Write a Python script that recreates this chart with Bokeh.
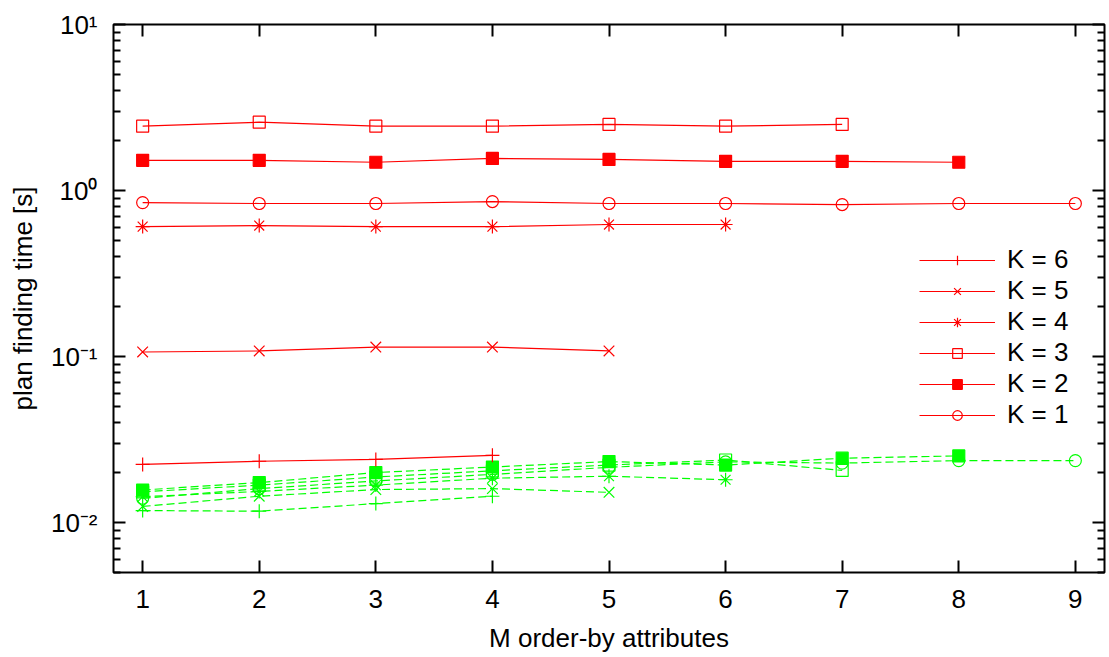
from bokeh.plotting import figure
from bokeh.models import FixedTicker, LinearAxis, LogAxis, Legend, LegendItem, Range1d
from bokeh.embed import file_html
from bokeh.resources import INLINE

# ---------------- data ----------------
m_values = [1, 2, 3, 4, 5, 6, 7, 8, 9]
x_ticks = [1, 2, 3, 4, 5, 6, 7, 8, 9]
y_ticks = [0.01, 0.1, 1, 10]
y_tick_labels = ["10\u207b\u00b2", "10\u207b\u00b9", "10\u2070", "10\u00b9"]
legend_labels = ["K = 6", "K = 5", "K = 4", "K = 3", "K = 2", "K = 1"]

# red (solid) series
red_k1 = [0.846, 0.835, 0.835, 0.858, 0.835, 0.835, 0.823, 0.835, 0.835]
red_k2 = [1.52, 1.52, 1.48, 1.56, 1.54, 1.50, 1.50, 1.48]
red_k3 = [2.44, 2.58, 2.44, 2.44, 2.50, 2.44, 2.50]
red_k4 = [0.606, 0.615, 0.606, 0.606, 0.624, 0.624]
red_k5 = [0.1065, 0.108, 0.114, 0.114, 0.108]
red_k6 = [0.0224, 0.0234, 0.0240, 0.0254]

# green (dashed) series
green_k1 = [0.0140, 0.0160, 0.0178, 0.0195, 0.0215, 0.0232, 0.0228, 0.0236, 0.0236]
green_k2 = [0.0157, 0.0174, 0.0200, 0.0216, 0.0233, 0.0222, 0.0244, 0.0252]
green_k3 = [0.0153, 0.0168, 0.0188, 0.0205, 0.0222, 0.0238, 0.0206]
green_k4 = [0.0143, 0.0154, 0.0168, 0.0185, 0.0190, 0.0181]
green_k5 = [0.0125, 0.0144, 0.0158, 0.0160, 0.0152]
green_k6 = [0.0118, 0.0117, 0.0130, 0.0144]

# ---------------- styles ----------------
FONT = "Liberation Sans"
FS = "26px"
RED = "#ff0000"
GREEN = "#00ff00"

markers = {
    1: dict(marker="circle", size=12, fill=False),
    2: dict(marker="square", size=12, fill=True),
    3: dict(marker="square", size=12, fill=False),
    4: dict(marker="asterisk", size=14, fill=False),
    5: dict(marker="x", size=15, fill=False),
    6: dict(marker="cross", size=14, fill=False),
}

p = figure(
    frame_width=991, frame_height=548,
    x_range=Range1d(0.75, 9.25), y_range=Range1d(0.005, 10),
    y_axis_type="log",
    output_backend="svg", toolbar_location=None,
    min_border_left=113, min_border_right=2, min_border_top=24, min_border_bottom=80,
    background_fill_color="white", border_fill_color="white",
)
p.grid.visible = False
p.outline_line_color = "black"
p.outline_line_width = 2

minor = []
for e in [-3, -2, -1, 0]:
    for k in range(2, 10):
        minor.append(k * 10.0 ** e)

def style_axis(ax):
    ax.axis_line_color = None
    ax.major_tick_in = 12
    ax.major_tick_out = 0
    ax.minor_tick_in = 7
    ax.minor_tick_out = 0
    ax.major_tick_line_width = 2
    ax.minor_tick_line_width = 2
    ax.major_tick_line_color = "black"
    ax.minor_tick_line_color = "black"
    ax.major_label_text_font = FONT
    ax.major_label_text_font_size = FS
    ax.major_label_text_color = "black"
    ax.axis_label_text_font = FONT
    ax.axis_label_text_font_size = FS
    ax.axis_label_text_font_style = "normal"
    ax.axis_label_text_color = "black"

xa = p.xaxis[0]
xa.ticker = FixedTicker(ticks=x_ticks)
xa.axis_label = "M order-by attributes"
style_axis(xa)
xa.major_label_standoff = 17
xa.axis_label_standoff = 12

ya = p.yaxis[0]
ya.ticker = FixedTicker(ticks=y_ticks, minor_ticks=minor)
ya.major_label_overrides = {t: l for t, l in zip(y_ticks, y_tick_labels)}
ya.axis_label = "plan finding time [s]"
style_axis(ya)
ya.major_label_standoff = 16
ya.axis_label_standoff = 10

# mirrored tick marks (no labels) on top and right, as in the reference
top = LinearAxis(ticker=FixedTicker(ticks=x_ticks))
style_axis(top)
top.major_label_overrides = {t: "" for t in x_ticks}
top.major_label_standoff = 0
p.add_layout(top, "above")

right = LogAxis(ticker=FixedTicker(ticks=y_ticks, minor_ticks=minor))
style_axis(right)
right.major_label_overrides = {t: "" for t in y_ticks}
right.major_label_standoff = 0
p.add_layout(right, "right")

red = {1: red_k1, 2: red_k2, 3: red_k3, 4: red_k4, 5: red_k5, 6: red_k6}
green = {1: green_k1, 2: green_k2, 3: green_k3, 4: green_k4, 5: green_k5, 6: green_k6}

def draw(series, color, dash):
    out = {}
    for k, ys in series.items():
        xs = m_values[:len(ys)]
        ln = p.line(xs, ys, line_color=color, line_width=1.2, line_dash=dash)
        mk = markers[k]
        sc = p.scatter(xs, ys, marker=mk["marker"], size=mk["size"],
                       line_color=color, line_width=1.2,
                       fill_color=color if mk["fill"] else None)
        out[k] = (ln, sc)
    return out

draw(green, GREEN, "8 4")
red_r = draw(red, RED, "solid")

items = []
for lab, k in zip(legend_labels, [6, 5, 4, 3, 2, 1]):
    items.append(LegendItem(label=lab, renderers=list(red_r[k])))

legend = Legend(items=items, location=(806, 142))
legend.glyph_width = 76
legend.glyph_height = 24
legend.label_height = 24
legend.spacing = 0
legend.padding = 0
legend.margin = 0
legend.label_standoff = 12
legend.label_text_font = FONT
legend.label_text_font_size = FS
legend.label_text_color = "black"
legend.border_line_color = None
legend.background_fill_alpha = 0
p.add_layout(legend, "center")

open("out.html", "w").write(file_html(p, INLINE))
